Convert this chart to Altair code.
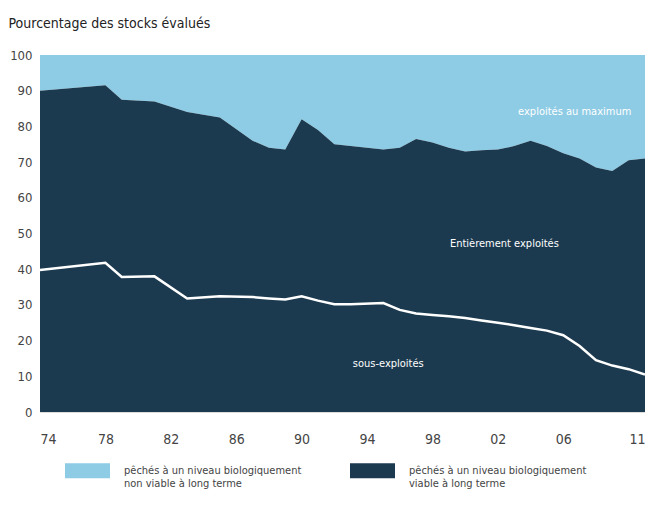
import altair as alt
import pandas as pd

# ---- data ----
years = [1974, 1978, 1979, 1981, 1983, 1985, 1987, 1988, 1989, 1990, 1991, 1992,
         1993, 1995, 1996, 1997, 1998, 1999, 2000, 2001, 2002, 2003, 2004, 2005,
         2006, 2007, 2008, 2009, 2010, 2011]
viable = [90.0, 91.5, 87.5, 87.0, 84.0, 82.5, 76.0, 74.0, 73.5, 82.0, 79.0, 75.0,
          74.5, 73.5, 74.0, 76.5, 75.5, 74.0, 73.0, 73.3, 73.5, 74.5, 76.0, 74.5,
          72.5, 71.0, 68.5, 67.5, 70.5, 71.0]
under = [39.8, 41.8, 37.8, 38.0, 31.8, 32.4, 32.2, 31.8, 31.5, 32.4, 31.2, 30.2,
         30.2, 30.5, 28.6, 27.6, 27.2, 26.8, 26.3, 25.6, 25.0, 24.3, 23.5, 22.8,
         21.5, 18.5, 14.5, 13.0, 12.0, 10.5]

cat_labels = ["pêchés à un niveau biologiquement\nnon viable à long terme",
              "pêchés à un niveau biologiquement\nviable à long terme"]
cat_colors = ["#8ecbe4", "#1c3a4f"]

x_ticks = [1974, 1978, 1982, 1986, 1990, 1994, 1998, 2002, 2006, 2011]
x_tick_labels = ["74", "78", "82", "86", "90", "94", "98", "02", "06", "11"]
y_ticks = [0, 10, 20, 30, 40, 50, 60, 70, 80, 90, 100]

ann_text = ["exploités au maximum", "Entièrement exploités", "sous-exploités"]
ann_year = [2006.7, 2002.4, 1995.3]
ann_value = [84.0, 47.0, 13.5]

FONT = "Liberation Sans Narrow, DejaVu Sans Condensed, Roboto, sans-serif"

# ---- tables ----
rows = []
for y, v in zip(years, viable):
    rows.append({"year": y, "cat": cat_labels[0], "lo": v, "hi": 100})
    rows.append({"year": y, "cat": cat_labels[1], "lo": 0, "hi": v})
area_df = pd.DataFrame(rows)
line_df = pd.DataFrame({"year": years, "under": under})
ann_df = pd.DataFrame({"text": ann_text, "year": ann_year, "value": ann_value})

label_map = " : ".join(
    f"datum.value == {v} ? '{l}'" for v, l in zip(x_ticks, x_tick_labels)
) + " : ''"

x_scale = alt.Scale(domain=[1974, 2011], nice=False, zero=False)
y_scale = alt.Scale(domain=[0, 100], nice=False)

x_axis = alt.Axis(values=x_ticks, labelExpr=label_map, title=None, grid=False,
                  domain=False, ticks=False, labelPadding=20, labelFontSize=14,
                  labelColor="#444", labelFont=FONT, labelFontWeight="normal",
                  labelOverlap=False)
y_axis = alt.Axis(values=y_ticks, grid=False, domain=False, ticks=False,
                  labelPadding=8, labelFontSize=13, labelColor="#444", labelFont=FONT,
                  labelOverlap=False, labelFlush=False, format="d",
                  title="Pourcentage des stocks évalués", titleAngle=0,
                  titleAlign="left", titleBaseline="alphabetic", titleX=-32, titleY=-28,
                  titleFontSize=14, titleFont=FONT, titleFontWeight="normal",
                  titleColor="#222")

areas = alt.Chart(area_df).mark_area(interpolate="linear").encode(
    x=alt.X("year:Q", scale=x_scale, axis=x_axis),
    y=alt.Y("hi:Q", scale=y_scale, axis=y_axis),
    y2="lo:Q",
    color=alt.Color("cat:N",
                    scale=alt.Scale(domain=cat_labels, range=cat_colors),
                    legend=alt.Legend(
                        title=None, orient="none", legendX=25, legendY=393,
                        direction="horizontal", columns=2, columnPadding=48,
                        symbolType="M-1,-0.33H1V0.33H-1Z", symbolSize=2025,
                        symbolStrokeWidth=0, symbolOpacity=1,
                        labelExpr="split(datum.label, '\\n')",
                        labelFontSize=11, labelFont=FONT, labelColor="#444",
                        labelOffset=14, labelLimit=300, labelBaseline="middle")),
    order=alt.Order("cat:N"),
)

line = alt.Chart(line_df).mark_line(color="white", strokeWidth=2.5).encode(
    x=alt.X("year:Q", scale=x_scale, axis=x_axis),
    y=alt.Y("under:Q", scale=y_scale, axis=y_axis),
)

texts = alt.Chart(ann_df).mark_text(color="white", fontSize=11, font=FONT,
                                    align="center", baseline="middle").encode(
    x=alt.X("year:Q", scale=x_scale, axis=x_axis),
    y=alt.Y("value:Q", scale=y_scale, axis=y_axis),
    text="text:N",
)

chart = alt.layer(areas, line, texts).properties(
    width=605, height=357,
    autosize=alt.AutoSizeParams(type="none"),
    padding={"left": 32, "top": 47, "right": 0, "bottom": 80},
).configure_view(stroke=None).configure(background="white")

chart.save("out.html", embed_options={"renderer": "svg", "actions": False})
